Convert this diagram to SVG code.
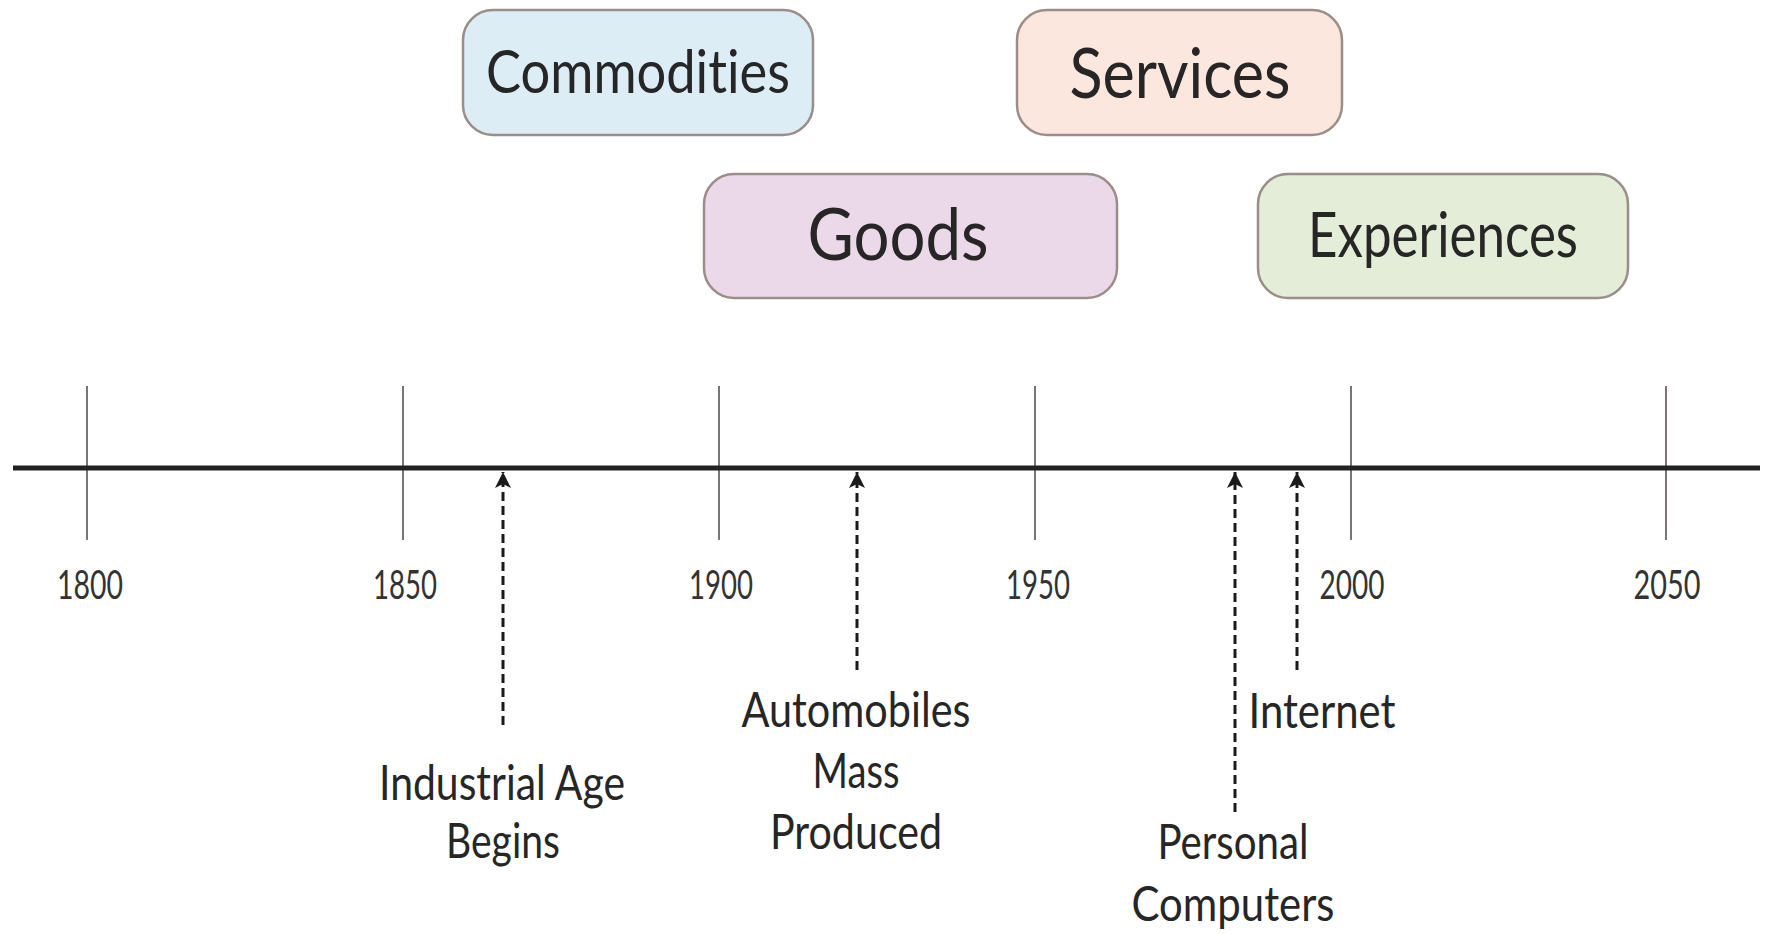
<svg xmlns="http://www.w3.org/2000/svg" width="1768" height="934" viewBox="0 0 1768 934">
  <defs>
    <style>
      text { font-variant-ligatures: none; font-feature-settings: "liga" 0, "clig" 0; }
      .box { stroke: #9b8d88; stroke-width: 2.5; }
      .boxtxt { font-family: Lato, "Open Sans", "Liberation Sans", sans-serif; fill: #262626; text-anchor: middle; }
      .year { font-family: Lato, "Open Sans", "Liberation Sans", sans-serif; font-size: 40px; fill: #333; text-anchor: middle; }
      .lbl { font-family: Lato, "Open Sans", "Liberation Sans", sans-serif; font-size: 48px; fill: #262626; text-anchor: middle; }
      .tick { stroke: #7a7574; stroke-width: 2; }
      .axis { stroke: #222; stroke-width: 5; }
      .dash { stroke: #1a1a1a; stroke-width: 3; stroke-dasharray: 9 5; fill: none; }
    </style>
    <marker id="arrow" markerUnits="userSpaceOnUse" markerWidth="18" markerHeight="16" refX="16" refY="8" orient="auto">
      <path d="M0,0 L16,8 L0,16 L4,8 z" fill="#1a1a1a"/>
    </marker>
  </defs>
  <rect width="1768" height="934" fill="#ffffff"/>

  <g id="node-commodities">
    <rect class="box" x="463" y="10" width="350" height="125" rx="30" fill="#dcedf6"/>
    <text class="boxtxt" x="638" y="93" font-size="60" textLength="304" lengthAdjust="spacingAndGlyphs">Commodities</text>
  </g>
  <g id="node-services">
    <rect class="box" x="1017" y="10" width="325" height="125" rx="30" fill="#fbe7dd"/>
    <text class="boxtxt" x="1180" y="98" font-size="70" textLength="221" lengthAdjust="spacingAndGlyphs">Services</text>
  </g>
  <g id="node-goods">
    <rect class="box" x="704" y="174" width="413" height="124" rx="30" fill="#ebd9ea"/>
    <text class="boxtxt" x="898" y="260" font-size="72" textLength="181" lengthAdjust="spacingAndGlyphs">Goods</text>
  </g>
  <g id="node-experiences">
    <rect class="box" x="1258" y="174" width="370" height="124" rx="30" fill="#e4edd8"/>
    <text class="boxtxt" x="1443" y="257" font-size="62" textLength="270" lengthAdjust="spacingAndGlyphs">Experiences</text>
  </g>

  <g id="timeline">
    <line class="tick" x1="87" y1="386" x2="87" y2="540"/>
    <line class="tick" x1="403" y1="386" x2="403" y2="540"/>
    <line class="tick" x1="719" y1="386" x2="719" y2="540"/>
    <line class="tick" x1="1035" y1="386" x2="1035" y2="540"/>
    <line class="tick" x1="1351" y1="386" x2="1351" y2="540"/>
    <line class="tick" x1="1666" y1="386" x2="1666" y2="540"/>
    <line class="axis" x1="13" y1="468" x2="1760" y2="468"/>
    <text class="year" x="90" y="599" textLength="66" lengthAdjust="spacingAndGlyphs">1800</text>
    <text class="year" x="405" y="599" textLength="64" lengthAdjust="spacingAndGlyphs">1850</text>
    <text class="year" x="721" y="599" textLength="64" lengthAdjust="spacingAndGlyphs">1900</text>
    <text class="year" x="1038" y="599" textLength="64" lengthAdjust="spacingAndGlyphs">1950</text>
    <text class="year" x="1352" y="599" textLength="65" lengthAdjust="spacingAndGlyphs">2000</text>
    <text class="year" x="1667" y="599" textLength="67" lengthAdjust="spacingAndGlyphs">2050</text>
  </g>

  <g id="connectors">
    <line class="dash" x1="503" y1="725" x2="503" y2="472" marker-end="url(#arrow)"/>
    <line class="dash" x1="857" y1="670" x2="857" y2="472" marker-end="url(#arrow)"/>
    <line class="dash" x1="1235" y1="812" x2="1235" y2="472" marker-end="url(#arrow)"/>
    <line class="dash" x1="1297" y1="670" x2="1297" y2="472" marker-end="url(#arrow)"/>
  </g>

  <g id="event-industrial">
    <text class="lbl" x="502" y="800" textLength="246" lengthAdjust="spacingAndGlyphs">Industrial Age</text>
    <text class="lbl" x="503" y="858" textLength="114" lengthAdjust="spacingAndGlyphs">Begins</text>
  </g>
  <g id="event-automobiles">
    <text class="lbl" x="856" y="727" textLength="229" lengthAdjust="spacingAndGlyphs">Automobiles</text>
    <text class="lbl" x="856" y="788" textLength="87" lengthAdjust="spacingAndGlyphs">Mass</text>
    <text class="lbl" x="856" y="849" textLength="172" lengthAdjust="spacingAndGlyphs">Produced</text>
  </g>
  <g id="event-internet">
    <text class="lbl" x="1322" y="728" textLength="147" lengthAdjust="spacingAndGlyphs">Internet</text>
  </g>
  <g id="event-pc">
    <text class="lbl" x="1233" y="859" textLength="151" lengthAdjust="spacingAndGlyphs">Personal</text>
    <text class="lbl" x="1233" y="921" textLength="203" lengthAdjust="spacingAndGlyphs">Computers</text>
  </g>
</svg>
